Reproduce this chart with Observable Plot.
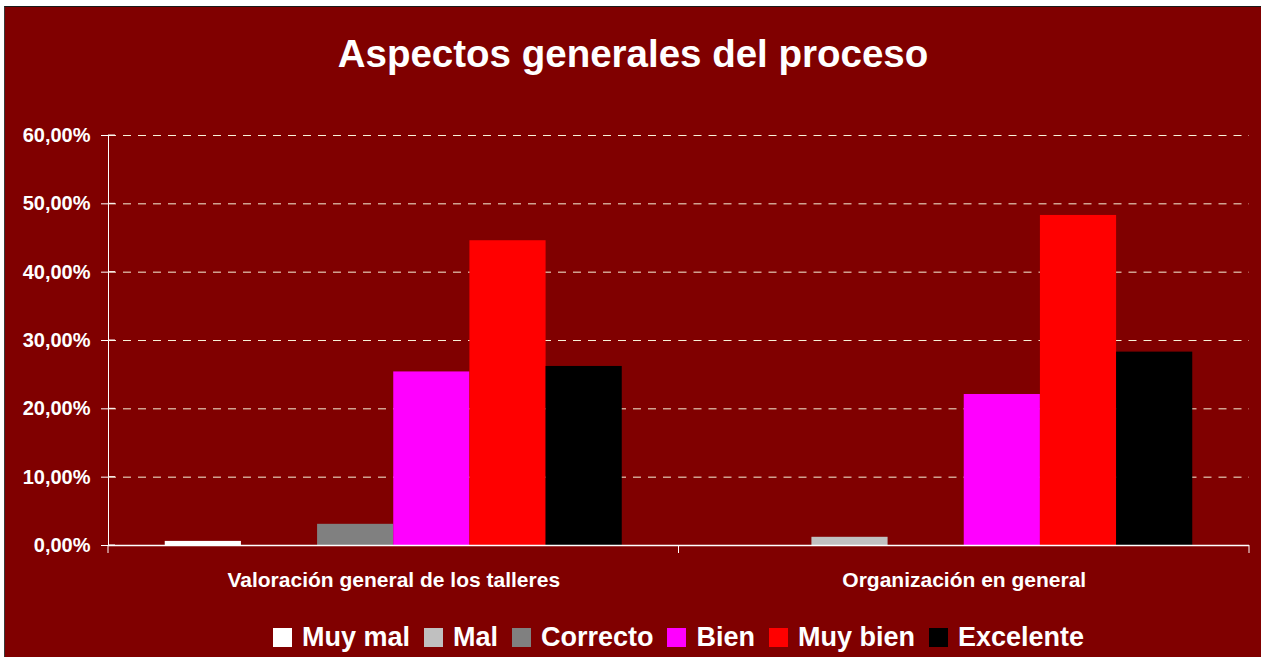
<!DOCTYPE html>
<html><head><meta charset="utf-8">
<script src="https://cdn.jsdelivr.net/npm/d3@7"></script>
<script src="https://cdn.jsdelivr.net/npm/@observablehq/plot@0.6"></script>
<style>
html,body{margin:0;padding:0;background:#fff;}
#frame{position:absolute;left:4px;top:6px;width:1257px;height:651px;background:#800000;border-top:1px solid #1a1a1a;border-left:1px solid #3a3a3a;box-sizing:border-box;overflow:hidden;font-family:"Liberation Sans",Arial,sans-serif;color:#fff;}
#title{position:absolute;left:0;top:28px;width:100%;text-align:center;font-size:38.5px;line-height:38px;font-weight:bold;}
#chart{position:absolute;left:0;top:0;}
#chart [aria-label^="fx-axis"]{font-size:21px;}
#legend{position:absolute;left:103px;width:1141px;top:617px;display:flex;justify-content:center;font-size:27px;line-height:27px;font-weight:bold;white-space:nowrap;}
.item{display:flex;align-items:flex-start;margin:0 7px;}
.sw{width:19px;height:19px;margin-top:4px;margin-right:10px;}
</style>
</head>
<body>
<div id="frame">
  <div id="title">Aspectos generales del proceso</div>
  <div id="chart"></div>
  <div id="legend"></div>
</div>
<script>
const categories = ["Valoración general de los talleres", "Organización en general"];
const series = ["Muy mal", "Mal", "Correcto", "Bien", "Muy bien", "Excelente"];
const valoracion = [0.6, 0, 3.1, 25.4, 44.6, 26.2];
const organizacion = [0, 1.2, 0, 22.1, 48.3, 28.3];
const colors = ["#ffffff", "#c0c0c0", "#808080", "#ff00ff", "#ff0000", "#000000"];
const yTicks = [0, 10, 20, 30, 40, 50, 60];
const gridTicks = [10, 20, 30, 40, 50, 60];

const data = [];
[valoracion, organizacion].forEach((vals, ci) => {
  vals.forEach((v, si) => data.push({category: categories[ci], series: series[si], value: v}));
});

const fmt = d => d.toFixed(2).replace(".", ",") + "%";

const chart = Plot.plot({
  width: 1256,
  height: 600,
  marginTop: 128,
  marginBottom: 62,
  marginLeft: 103,
  marginRight: 12,
  style: {background: "none", color: "white", fontFamily: "'Liberation Sans', Arial, sans-serif", fontSize: "20px", fontWeight: "bold", overflow: "visible"},
  fx: {domain: categories, padding: 0, round: false, label: null, tickSize: 0, tickPadding: 27},
  x: {domain: series, paddingInner: 0, paddingOuter: 0.745, round: false, axis: null},
  y: {domain: [0, 60], ticks: yTicks, tickFormat: fmt, tickSize: 7, tickPadding: 11, label: null, line: true},
  color: {domain: series, range: colors},
  marks: [
    Plot.ruleY(gridTicks, {stroke: "#f8f2d8", strokeDasharray: "8,7", strokeWidth: 1}),
    Plot.barY(data, {fx: "category", x: "series", y: "value", fill: "series"}),
    Plot.ruleY([0], {stroke: "white", strokeWidth: 1.5})
  ]
});
document.getElementById("chart").appendChild(chart);

// extra axis decorations positioned through Plot's scales
const ys = Plot.scale({y: chart.scale("y")});
const fxd = chart.scale("fx");
const band = d3.scaleBand().domain(fxd.domain).range(fxd.range).paddingInner(0).paddingOuter(0);
const x0 = fxd.range[0];
const edges = fxd.domain.map(d => band(d)).concat([band(fxd.domain[fxd.domain.length - 1]) + band.bandwidth()]);
const g = d3.select(chart).append("g").attr("stroke", "white").attr("stroke-width", 1);
yTicks.forEach(t => {
  g.append("line").attr("x1", x0).attr("x2", x0 + 7).attr("y1", ys.apply(t)).attr("y2", ys.apply(t));
});
edges.forEach(e => {
  g.append("line").attr("x1", e).attr("x2", e).attr("y1", ys.apply(0)).attr("y2", ys.apply(0) + 8);
});

// legend
const legend = document.getElementById("legend");
series.forEach((s, i) => {
  const it = document.createElement("div");
  it.className = "item";
  const sw = document.createElement("div");
  sw.className = "sw";
  sw.style.background = colors[i];
  const tx = document.createElement("span");
  tx.textContent = s;
  it.appendChild(sw);
  it.appendChild(tx);
  legend.appendChild(it);
});
</script>
</body></html>
